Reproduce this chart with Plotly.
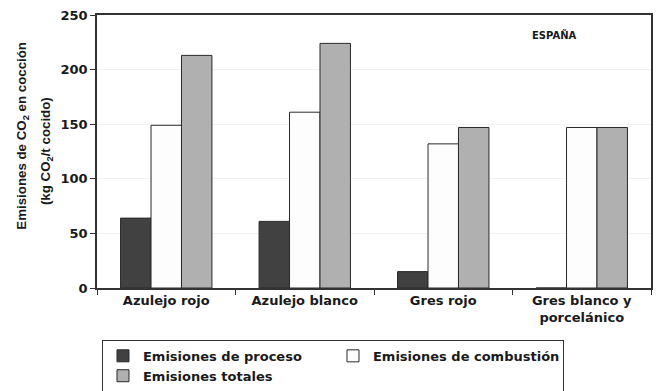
import plotly.graph_objects as go

categories = ["Azulejo rojo", "Azulejo blanco", "Gres rojo", "Gres blanco y<br>porcelánico"]
proceso = [64, 61, 15, 0]
combustion = [149, 161, 132, 147]
totales = [213, 224, 147, 147]
series_names = ["Emisiones de proceso", "Emisiones de combustión", "Emisiones totales"]
y_ticks = [0, 50, 100, 150, 200, 250]

FONT = "DejaVu Sans"
TFONT = "Liberation Sans"
line = dict(color="#2a2a2a", width=1)

fig = go.Figure()
fig.add_bar(x=categories, y=proceso, name=series_names[0], marker=dict(color="#414141", line=line))
fig.add_bar(x=categories, y=combustion, name=series_names[1], marker=dict(color="#fdfdfd", line=line))
fig.add_bar(x=categories, y=totales, name=series_names[2], marker=dict(color="#b0b0b0", line=line))

fig.update_layout(
    width=659, height=391,
    margin=dict(l=97, r=8, t=15, b=103, autoexpand=False),
    paper_bgcolor="white", plot_bgcolor="white",
    barmode="group", bargap=0.34, bargroupgap=0,
    font=dict(family=FONT, color="#1a1a1a"),
    showlegend=True,
    legend=dict(
        orientation="h",
        x=0.009, xanchor="left", y=-0.19, yanchor="top",
        entrywidth=185, entrywidthmode="pixels",
        bordercolor="#333", borderwidth=1, bgcolor="white",
        font=dict(size=13, family=FONT, weight="bold"),
        itemwidth=30, tracegroupgap=0,
    ),
    annotations=[
        dict(text="ESPAÑA", xref="paper", yref="paper", x=0.826, y=0.925,
             showarrow=False, font=dict(size=10, family=FONT, weight="bold"),
             xanchor="center", yanchor="middle"),
        dict(text="Emisiones de CO<sub>2</sub> en cocción",
             xref="paper", yref="paper", x=-0.134, y=0.557, textangle=-90, showarrow=False,
             font=dict(size=13.3, family=TFONT, weight="bold"), xanchor="center", yanchor="middle"),
        dict(text="(kg CO<sub>2</sub>/t cocido)",
             xref="paper", yref="paper", x=-0.09, y=0.502, textangle=-90, showarrow=False,
             font=dict(size=13.3, family=TFONT, weight="bold"), xanchor="center", yanchor="middle"),
    ],
)
fig.update_yaxes(
    range=[0, 250], tickvals=y_ticks, showgrid=True, gridcolor="#f2f2f2",
    showline=True, mirror=True, linecolor="#333", linewidth=1.5,
    ticks="outside", ticklen=5, tickcolor="#333", automargin=False,
    tickfont=dict(size=13, family=FONT, weight="bold"), zeroline=False,
)
fig.update_xaxes(
    showline=True, mirror=True, linecolor="#333", linewidth=1.5,
    ticks="outside", ticklen=5, tickcolor="#333", tickson="boundaries", automargin=False,
    tickfont=dict(size=13, family=FONT, weight="bold"), showgrid=False,
)
fig.write_html("out.html", config={"displayModeBar": False},
               post_script="document.body.style.margin='0';")
